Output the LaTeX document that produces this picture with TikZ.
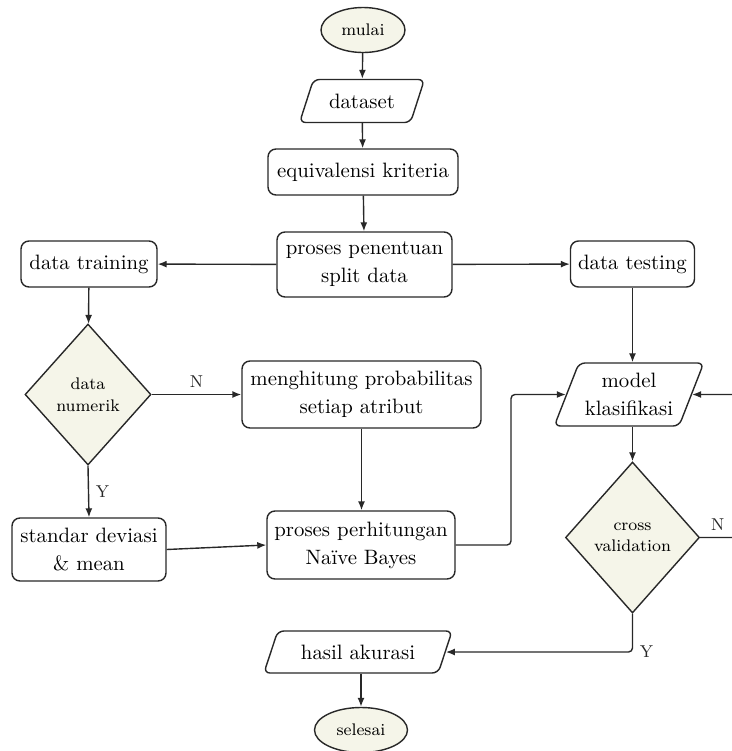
\documentclass[tikz,border=0pt]{standalone}
\usetikzlibrary{shapes.geometric,arrows.meta}
\definecolor{cream}{RGB}{245,245,233}
\definecolor{ink}{RGB}{40,40,40}
\begin{document}
\begin{tikzpicture}[x=0.5pt,y=-0.5pt,
  base/.style={draw=ink, line width=0.7pt, align=center, inner sep=2pt, font=\fontsize{10.4}{14}\selectfont},
  proc/.style={base, rectangle, rounded corners=4pt},
  io/.style={base, trapezium, trapezium left angle=65, trapezium right angle=115, trapezium stretches=true, rounded corners=3pt},
  term/.style={base, ellipse, fill=cream, font=\fontsize{8.4}{10.8}\selectfont, inner sep=0pt},
  dec/.style={base, diamond, fill=cream, font=\fontsize{8.4}{10.8}\selectfont, inner sep=0pt},
  arr/.style={draw=ink, line width=0.7pt, -{Latex[length=4.5pt,width=3.5pt]}, rounded corners=2pt},
  lbl/.style={font=\fontsize{8.6}{11}\selectfont, text=ink}
]
\useasboundingbox (0,0) rectangle (732,751);
\clip (0,0) rectangle (732,751);

\node[term, minimum width=42pt, minimum height=22.5pt] (mulai) at (363,30) {mulai};
\node[io, minimum width=62.5pt, minimum height=21.5pt] (dataset) at (362,101) {dataset};
\node[proc, minimum width=95pt, minimum height=23pt] (equiv) at (363,172) {equivalensi kriteria};
\node[proc, minimum width=87.5pt, minimum height=32.5pt] (split) at (364.5,264.5) {proses penentuan\\split data};
\node[proc, minimum width=68pt, minimum height=23pt] (train) at (89,264) {data training};
\node[proc, minimum width=62pt, minimum height=23pt] (test) at (632.5,264) {data testing};
\node[dec, minimum width=63pt, minimum height=70.5pt] (num) at (88,394.5) {data\\numerik};
\node[proc, minimum width=119.5pt, minimum height=33.5pt] (prob) at (361.5,394.5) {menghitung probabilitas\\setiap atribut};
\node[io, minimum width=75pt, minimum height=31.5pt] (model) at (629,394.5) {model\\klasifikasi};
\node[proc, minimum width=77pt, minimum height=31.5pt] (std) at (89,549.5) {standar deviasi\\\& mean};
\node[proc, minimum width=94pt, minimum height=34pt] (pp) at (361,545) {proses perhitungan\\Na\"ive Bayes};
\node[dec, minimum width=67pt, minimum height=75.5pt] (cv) at (632.5,537.5) {cross\\validation};
\node[io, minimum width=94.5pt, minimum height=21pt] (hasil) at (358,652) {hasil akurasi};
\node[term, minimum width=46.5pt, minimum height=22.5pt] (selesai) at (361,730) {selesai};

\coordinate (jog) at (511,0);
\coordinate (far) at (770,0);

\draw[arr] (mulai) -- (dataset);
\draw[arr] (dataset) -- (equiv);
\draw[arr] (equiv) -- (split);
\draw[arr] (split) -- (train);
\draw[arr] (split) -- (test);
\draw[arr] (train) -- (num);
\draw[arr] (num.east) -- node[above, lbl]{N} (prob.west);
\draw[arr] (num.south) -- node[right, lbl]{Y} (std.north);
\draw[arr] (std.east) -- (pp.west);
\draw[arr] (prob.south) -- (prob.south |- pp.north);
\draw[arr] (pp.east) -- (pp.east -| jog) |- (model.west);
\draw[arr] (test.south) -- (test.south |- model.north);
\draw[arr] (model.south -| cv.north) -- (cv.north);
\draw[arr] (cv.east) -- node[pos=0.25, above, lbl]{N} (cv.east -| far) |- (model.east);
\draw[arr] (cv.south) |- node[pos=0.5, right, lbl]{Y} (hasil.east);
\draw[arr] (hasil.south -| selesai.north) -- (selesai.north);
\end{tikzpicture}
\end{document}
